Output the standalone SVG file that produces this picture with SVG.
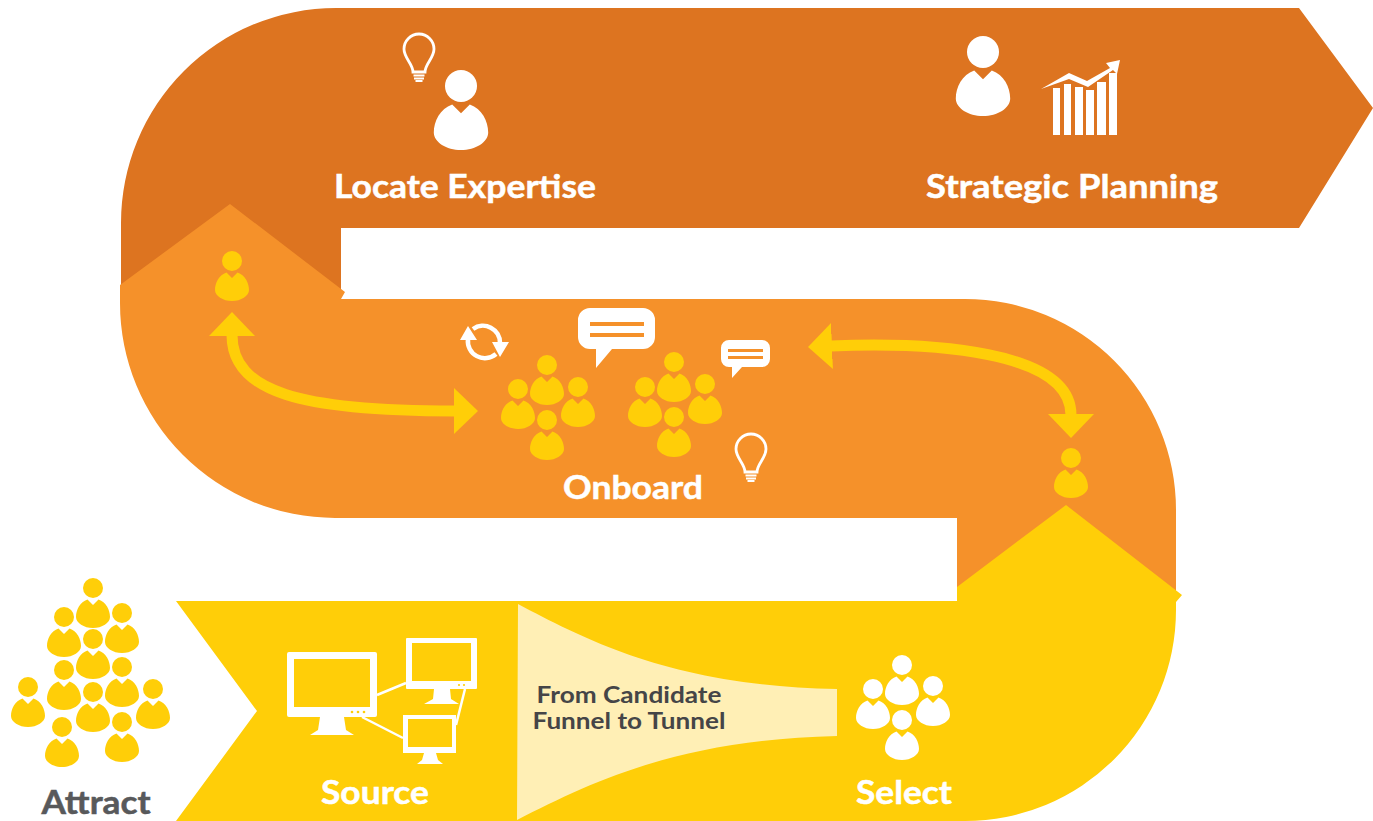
<svg xmlns="http://www.w3.org/2000/svg" xmlns:xlink="http://www.w3.org/1999/xlink" width="1373" height="821" viewBox="0 0 1373 821">
<style>
text{font-family:Lato,"Open Sans","Liberation Sans",sans-serif;font-weight:700}
.lbl{font-size:33px;fill:#fff;font-weight:700;stroke:#fff;stroke-width:.5}
.fn{font-size:22px;fill:#454547;font-weight:700}
.y{fill:#FFCE08}
.w{fill:#fff}
.o{fill:#F5912A}
.ln{stroke:#fff;fill:none}
.arc{fill:none;stroke:#FFCE08;stroke-width:11}
</style>
<defs>
<g id="person"><circle cx="0" cy="0" r="10"/><path d="M-5.5,11.5 L0,17 L5.5,11.5 C13,14 17,22 17,29 C17,35 9,40 0,40 C-9,40 -17,35 -17,29 C-17,22 -13,14 -5.5,11.5Z"/></g>
<g id="bulb" fill="none" stroke="#fff" stroke-width="2.8"><path d="M-6,22 C-6,14 -15,8 -15,-1 A15,15 0 0 1 15,-1 C15,8 6,14 6,22Z"/><path d="M-5.5,25.5H5.5M-5,28.5H5M-3.5,31H3.5" stroke-width="2"/></g>
<marker id="head" markerUnits="userSpaceOnUse" markerWidth="25" markerHeight="46" refX="1" refY="23" orient="auto-start-reverse" viewBox="0 0 25 46"><path d="M0,0 L24,23 L0,46Z" fill="#FFCE08"/></marker>
</defs>

<g id="band-top"><path fill="#DD7420" d="M1299,8 L1373,108 L1299,228 L341,228 L341,295 L121,295 L121,223 A215,215 0 0 1 336,8 Z"/></g>
<g id="band-middle"><path fill="#F5912A" d="M120,285 L230,204 L345,292 L341,299 L965,299 A211,211 0 0 1 1176,510 L1176,600 L957,600 L957,518 L335,518 A215,215 0 0 1 120,303 Z"/></g>
<g id="band-bottom"><path fill="#FFCE08" d="M176,601 L957,601 L957,587 L1066,505 L1182,595 L1176,602 L1176,610 A211,211 0 0 1 965,821 L176,821 L257,711 Z"/></g>
<g id="funnel"><path fill="#FFEFB5" d="M518,604 C595,645 680,686 837,689 L837,736 C680,740 595,780 517,820 Z"/>
<text class="fn" x="629" y="703" text-anchor="middle" textLength="185" lengthAdjust="spacingAndGlyphs">From Candidate</text>
<text class="fn" x="629" y="729" text-anchor="middle" textLength="193" lengthAdjust="spacingAndGlyphs">Funnel to Tunnel</text></g>

<g id="connectors">
<path class="arc" d="M232,335 C232,392 300,411 455,411" marker-start="url(#head)" marker-end="url(#head)"/>
<path class="arc" d="M831,346 C930,342 1071,350 1071,415" marker-start="url(#head)" marker-end="url(#head)"/>
</g>

<g id="locate-expertise">
<use xlink:href="#bulb" href="#bulb" x="419" y="50"/>
<use href="#person" xlink:href="#person" class="w" transform="translate(461,86) scale(1.6)"/>
<text class="lbl" x="465" y="198" text-anchor="middle" textLength="262" lengthAdjust="spacingAndGlyphs">Locate Expertise</text>
</g>
<g id="strategic-planning">
<use href="#person" xlink:href="#person" class="w" transform="translate(983,52) scale(1.6)"/>
<g class="w"><rect x="1053" y="88" width="7" height="47"/><rect x="1064" y="84" width="7" height="51"/><rect x="1075" y="87" width="8" height="48"/><rect x="1086" y="90" width="8" height="45"/><rect x="1097" y="82" width="9" height="53"/><rect x="1109" y="73" width="8" height="62"/></g>
<path class="w" d="M1041,89 L1069,73 L1087,81 L1110,68 L1106,63 L1120,60 L1117,74 L1113,70 L1088,87 L1069,79Z"/>
<text class="lbl" x="1072" y="198" text-anchor="middle" textLength="292" lengthAdjust="spacingAndGlyphs">Strategic Planning</text>
</g>
<g id="person-left"><use href="#person" xlink:href="#person" class="y" x="232" y="261"/></g>
<g id="person-right"><use href="#person" xlink:href="#person" class="y" x="1071" y="458"/></g>
<g id="onboard" class="y">
<use href="#person" xlink:href="#person" x="547" y="365"/><use href="#person" xlink:href="#person" x="518" y="389"/><use href="#person" xlink:href="#person" x="578" y="387"/><use href="#person" xlink:href="#person" x="547" y="420"/>
<use href="#person" xlink:href="#person" x="674" y="362"/><use href="#person" xlink:href="#person" x="645" y="387"/><use href="#person" xlink:href="#person" x="705" y="384"/><use href="#person" xlink:href="#person" x="674" y="417"/>
<path class="w" d="M590,308 H643 A12,12 0 0 1 655,320 V337 A12,12 0 0 1 643,349 H612 L596,368 V349 H590 A12,12 0 0 1 578,337 V320 A12,12 0 0 1 590,308Z"/>
<rect class="o" x="590" y="322" width="54" height="4"/><rect class="o" x="590" y="333" width="54" height="4"/>
<path class="w" d="M729,340 H762 A8,8 0 0 1 770,348 V359 A8,8 0 0 1 762,367 H742 L732,378 V367 H729 A8,8 0 0 1 721,359 V348 A8,8 0 0 1 729,340Z"/>
<rect class="o" x="728" y="349" width="35" height="3"/><rect class="o" x="728" y="356" width="35" height="3"/>
<path class="ln" stroke-width="4.5" d="M473,329 A17,17 0 0 1 500,343 M496,354 A17,17 0 0 1 468,339"/>
<path class="w" d="M468,326 L477,340 L460,340Z M492,342 L509,342 L500,357Z"/>
<use href="#bulb" xlink:href="#bulb" x="751" y="450"/>
<text class="lbl" x="633" y="499" text-anchor="middle" textLength="140" lengthAdjust="spacingAndGlyphs">Onboard</text>
</g>
<g id="attract" class="y">
<use href="#person" xlink:href="#person" x="93" y="588"/><use href="#person" xlink:href="#person" x="64" y="617"/><use href="#person" xlink:href="#person" x="122" y="613"/><use href="#person" xlink:href="#person" x="93" y="639"/><use href="#person" xlink:href="#person" x="64" y="670"/><use href="#person" xlink:href="#person" x="122" y="667"/><use href="#person" xlink:href="#person" x="28" y="687"/><use href="#person" xlink:href="#person" x="153" y="689"/><use href="#person" xlink:href="#person" x="93" y="692"/><use href="#person" xlink:href="#person" x="62" y="727"/><use href="#person" xlink:href="#person" x="122" y="722"/>
<text x="96" y="814" font-size="32" fill="#58595B" stroke="#58595B" stroke-width=".5" text-anchor="middle" textLength="109" lengthAdjust="spacingAndGlyphs">Attract</text>
</g>
<g id="source">
<path class="w" fill-rule="evenodd" d="M289,652 H375 A2,2 0 0 1 377,654 V715 A2,2 0 0 1 375,717 H289 A2,2 0 0 1 287,715 V654 A2,2 0 0 1 289,652Z M294,659 V707 H370 V659Z"/>
<path class="w" d="M320,717 H344 L346,730 L354,735 H310 L318,730Z"/>
<path class="w" fill-rule="evenodd" d="M407,638 H476 A1,1 0 0 1 477,639 V688 A1,1 0 0 1 476,689 H407 A1,1 0 0 1 406,688 V639 A1,1 0 0 1 407,638Z M412,643 V681 H471 V643Z"/>
<path class="w" d="M434,689 H450 L451,699 L459,704 H424 L433,699Z"/>
<path class="w" fill-rule="evenodd" d="M403,715 H456 V753 H403Z M408,719 V747 H452 V719Z"/>
<path class="w" d="M424,753 H436 L438,760 L443,764 H417 L422,760Z"/>
<g class="y"><circle cx="352" cy="712" r="1.3"/><circle cx="358" cy="712" r="1.3"/><circle cx="364" cy="712" r="1.3"/><circle cx="459" cy="685" r="1.1"/><circle cx="464" cy="685" r="1.1"/></g>
<path class="ln" stroke-width="2.5" d="M377,695 L406,683 M362,717 L403,738 M465,689 L456,725"/>
<text class="lbl" x="375" y="804" text-anchor="middle" textLength="108" lengthAdjust="spacingAndGlyphs">Source</text>
</g>
<g id="select" class="w">
<use href="#person" xlink:href="#person" x="902" y="665"/><use href="#person" xlink:href="#person" x="873" y="689"/><use href="#person" xlink:href="#person" x="933" y="686"/><use href="#person" xlink:href="#person" x="902" y="720"/>
<text class="lbl" x="904" y="804" text-anchor="middle" textLength="96" lengthAdjust="spacingAndGlyphs">Select</text>
</g>
</svg>
